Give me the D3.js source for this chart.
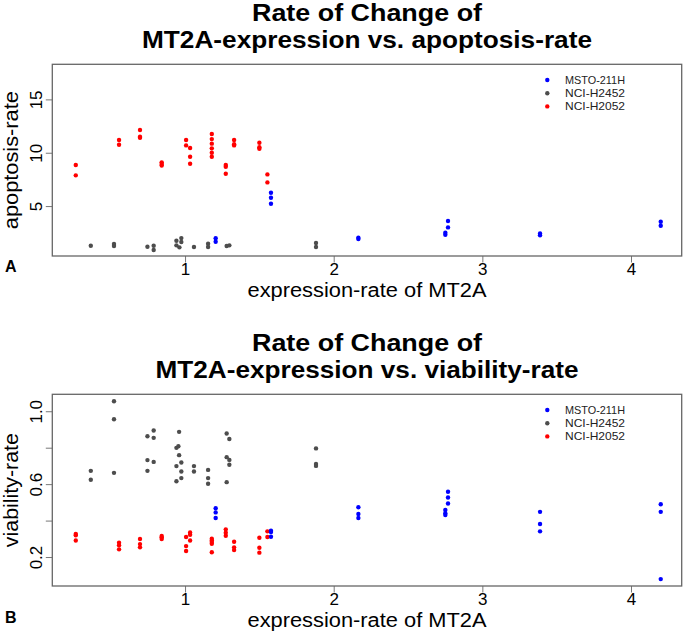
<!DOCTYPE html>
<html>
<head>
<meta charset="utf-8">
<script src="https://cdn.jsdelivr.net/npm/d3@7/dist/d3.min.js"></script>
<style>
  html, body { margin: 0; padding: 0; background: #fff; }
  svg { display: block; font-family: "Liberation Sans", Arial, Helvetica, sans-serif; }
</style>
</head>
<body>
<svg id="chart" width="685" height="633"></svg>
<script>
// ---------------- DATA ----------------
const seriesNames = ["MSTO-211H", "NCI-H2452", "NCI-H2052"];
const seriesColors = ["#0000FF", "#4D4D4D", "#FF0000"];
const xTicks = [1, 2, 3, 4];
const xLabel = "expression-rate of MT2A";

// Panel A: apoptosis-rate vs expression-rate (pairs [x, y])
const apoptosisMSTO = [
  [1.206,1.98],[1.206,1.66],[1.578,6.25],[1.578,5.78],[1.578,5.22],
  [2.166,2.03],[2.166,1.91],[2.751,2.50],[2.751,2.31],[2.769,3.00],[2.769,3.60],
  [3.388,2.44],[3.388,2.26],[4.200,3.53],[4.200,3.16]
];
const apoptosisH2452 = [
  [0.366,1.28],[0.522,1.44],[0.522,1.26],[0.747,1.19],[0.789,1.28],[0.789,0.88],
  [0.942,1.75],[0.942,1.32],[0.962,1.13],[0.975,2.00],[0.975,1.63],[1.060,1.16],
  [1.155,1.47],[1.155,1.16],[1.280,1.26],[1.298,1.32],[1.881,1.54],[1.881,1.16]
];
const apoptosisH2052 = [
  [0.265,8.85],[0.265,7.88],[0.556,11.19],[0.556,10.75],[0.697,12.13],[0.697,11.50],[0.697,11.40],
  [0.843,9.10],[0.843,8.94],[0.843,8.80],[1.007,11.19],[1.007,10.69],[1.034,10.44],[1.034,9.63],[1.034,8.97],
  [1.180,11.75],[1.180,11.28],[1.180,10.85],[1.180,10.41],[1.180,10.00],[1.180,9.63],
  [1.274,8.85],[1.274,8.69],[1.274,8.03],[1.330,11.19],[1.330,10.80],[1.330,10.69],
  [1.500,10.94],[1.500,10.51],[1.500,10.38],[1.554,7.97],[1.554,7.22]
];
const apoptosisTicks = [5, 10, 15];
const apoptosisTickLabels = ["5", "10", "15"];

// Panel B: viability-rate vs expression-rate (pairs [x, y])
const viabilityMSTO = [
  [1.206,0.468],[1.206,0.445],[1.206,0.414],[1.578,0.344],[1.578,0.337],[1.578,0.311],
  [2.166,0.473],[2.166,0.436],[2.166,0.414],[2.751,0.458],[2.751,0.440],[2.751,0.430],
  [2.769,0.558],[2.769,0.527],[2.769,0.494],[3.388,0.448],[3.388,0.381],[3.388,0.341],
  [4.200,0.490],[4.200,0.448],[4.200,0.079]
];
const viabilityH2452 = [
  [0.366,0.673],[0.366,0.624],[0.522,1.055],[0.522,0.956],[0.522,0.662],
  [0.747,0.863],[0.747,0.732],[0.747,0.673],[0.789,0.894],[0.789,0.854],[0.789,0.722],
  [0.942,0.799],[0.955,0.808],[0.960,0.887],[0.960,0.759],[0.942,0.699],[0.942,0.616],
  [0.975,0.719],[0.975,0.669],[0.975,0.633],[1.060,0.699],[1.060,0.669],
  [1.155,0.678],[1.155,0.633],[1.155,0.602],[1.280,0.878],[1.298,0.848],[1.280,0.748],
  [1.298,0.733],[1.298,0.706],[1.280,0.611],[1.881,0.796],[1.881,0.711],[1.881,0.700]
];
const viabilityH2052 = [
  [0.265,0.326],[0.265,0.319],[0.265,0.291],[0.556,0.278],[0.556,0.264],[0.556,0.242],
  [0.697,0.299],[0.697,0.271],[0.697,0.253],[0.843,0.315],[0.843,0.308],[0.843,0.299],
  [1.007,0.310],[1.007,0.260],[1.007,0.233],[1.034,0.335],[1.034,0.322],[1.034,0.291],
  [1.180,0.300],[1.180,0.291],[1.180,0.282],[1.180,0.273],[1.180,0.226],
  [1.274,0.352],[1.274,0.333],[1.274,0.317],[1.330,0.284],[1.330,0.253],[1.330,0.238],
  [1.500,0.306],[1.500,0.251],[1.500,0.224],[1.554,0.341],[1.554,0.310]
];
const viabilityTicks = [0.2, 0.4, 0.6, 0.8, 1.0];
const viabilityTickLabels = ["0.2", "", "0.6", "", "1.0"];

// ---------------- LAYOUT ----------------
const svg = d3.select("#chart");
const box = { left: 52.3, right: 681.7, top: 64.3, bottom: 256 };
const xDomain = [0.107, 4.341];

const panels = [
  {
    offset: 0, letter: "A", letterY: 272,
    title: ["Rate of Change of", "MT2A-expression vs. apoptosis-rate"], titleLen: [230, 450],
    yLabel: "apoptosis-rate", yLabelLen: 138, yDomain: [0.32, 18.29],
    yTicks: apoptosisTicks, yTickLabels: apoptosisTickLabels,
    series: [apoptosisMSTO, apoptosisH2452, apoptosisH2052]
  },
  {
    offset: 330, letter: "B", letterY: 623,
    title: ["Rate of Change of", "MT2A-expression vs. viability-rate"], titleLen: [230, 423],
    yLabel: "viability-rate", yLabelLen: 114, yDomain: [0.041, 1.093],
    yTicks: viabilityTicks, yTickLabels: viabilityTickLabels,
    series: [viabilityMSTO, viabilityH2452, viabilityH2052]
  }
];

const x = d3.scaleLinear().domain(xDomain).range([box.left, box.right]);
const drawOrder = [1, 2, 0];

panels.forEach(p => {
  const g = svg.append("g").attr("transform", `translate(0,${p.offset})`);
  const y = d3.scaleLinear().domain(p.yDomain).range([box.bottom, box.top]);
  const cx = (box.left + box.right) / 2;
  const cy = (box.top + box.bottom) / 2;

  // Title
  [20.7, 48.3].forEach((ty, i) => {
    g.append("text").attr("x", cx).attr("y", ty).attr("text-anchor", "middle")
      .attr("font-size", 23).attr("font-weight", "bold").attr("fill", "#000")
      .attr("textLength", p.titleLen[i]).attr("lengthAdjust", "spacingAndGlyphs")
      .text(p.title[i]);
  });

  // X axis
  const xAxis = g.append("g").attr("transform", `translate(0,${box.bottom})`)
    .call(d3.axisBottom(x).tickValues(xTicks).tickSize(6.5).tickPadding(0).tickFormat(d3.format("d")));
  xAxis.select(".domain").remove();
  xAxis.selectAll(".tick line").attr("stroke", "#777").attr("stroke-width", 1);
  xAxis.selectAll(".tick text").attr("font-size", 17).attr("fill", "#000")
    .attr("font-family", "'Liberation Sans', Arial, sans-serif");

  // Y axis
  const yAxis = g.append("g").attr("transform", `translate(${box.left},0)`)
    .call(d3.axisLeft(y).tickValues(p.yTicks).tickSize(6.5)
      .tickFormat((d, i) => p.yTickLabels[i]));
  yAxis.select(".domain").remove();
  yAxis.selectAll(".tick line").attr("stroke", "#777").attr("stroke-width", 1);
  yAxis.selectAll(".tick text")
    .attr("font-size", 17).attr("fill", "#000")
    .attr("font-family", "'Liberation Sans', Arial, sans-serif")
    .attr("text-anchor", "middle").attr("x", 0).attr("y", -10.3).attr("dy", 0)
    .attr("transform", "rotate(-90)");

  // Box
  g.append("rect").attr("x", box.left).attr("y", box.top)
    .attr("width", box.right - box.left).attr("height", box.bottom - box.top)
    .attr("fill", "none").attr("stroke", "#666").attr("stroke-width", 1.3);

  // Axis labels
  g.append("text").attr("x", cx).attr("y", box.bottom + 41).attr("text-anchor", "middle")
    .attr("font-size", 19.5).attr("fill", "#000")
    .attr("textLength", 239).attr("lengthAdjust", "spacingAndGlyphs").text(xLabel);
  g.append("text").attr("transform", `translate(18,${cy}) rotate(-90)`)
    .attr("text-anchor", "middle").attr("font-size", 19.5).attr("fill", "#000")
    .attr("textLength", p.yLabelLen).attr("lengthAdjust", "spacingAndGlyphs").text(p.yLabel);

  // Panel letter
  svg.append("text").attr("x", 5).attr("y", p.letterY).attr("font-size", 16)
    .attr("font-weight", "bold").attr("fill", "#000").text(p.letter);

  // Points
  drawOrder.forEach(si => {
    g.append("g").selectAll("circle").data(p.series[si]).join("circle")
      .attr("cx", d => x(d[0])).attr("cy", d => y(d[1])).attr("r", 2.2)
      .attr("fill", seriesColors[si]);
  });

  // Legend
  const leg = g.append("g");
  seriesNames.forEach((name, i) => {
    const ly = 80 + i * 13.2;
    leg.append("circle").attr("cx", 547.3).attr("cy", ly).attr("r", 2.2).attr("fill", seriesColors[i]);
    leg.append("text").attr("x", 565).attr("y", ly).attr("dy", "0.36em")
      .attr("font-size", 10.8).attr("fill", "#222")
      .attr("textLength", 60 * name.length / 9).attr("lengthAdjust", "spacingAndGlyphs")
      .text(name);
  });
});
</script>
</body>
</html>
